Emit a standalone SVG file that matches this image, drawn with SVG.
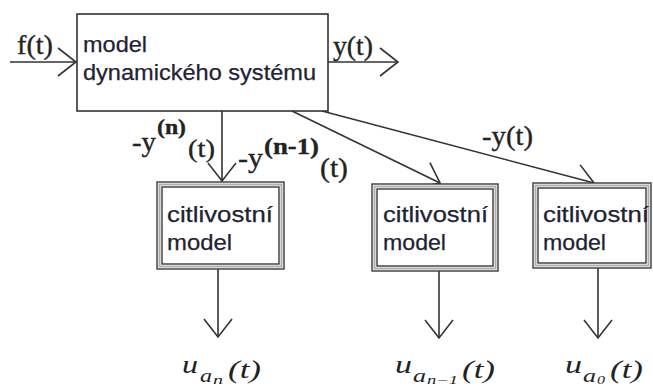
<svg xmlns="http://www.w3.org/2000/svg" width="653" height="387" viewBox="0 0 653 387">
  <style>
    .box { fill: #ffffff; stroke: #333333; stroke-width: 1.6; }
    .frame-out { fill: #ffffff; stroke: #3a3a3a; stroke-width: 1.4; }
    .frame-mid { fill: none; stroke: #b0b0b0; stroke-width: 2; }
    .frame-in { fill: none; stroke: #3a3a3a; stroke-width: 1.4; }
    .wire { fill: none; stroke: #333333; stroke-width: 1.6; marker-end: url(#vee); }
    .sans { font-family: "Liberation Sans", Arial, sans-serif; font-size: 22px; fill: #222233; stroke: #222233; stroke-width: 0.25; }
    .serif { font-family: "Liberation Serif", "Times New Roman", serif; fill: #222222; stroke: #222222; stroke-width: 0.35; }
    .math { font-family: "Liberation Serif", "Times New Roman", serif; font-style: italic; fill: #222222; }
  </style>
  <defs>
    <marker id="vee" markerUnits="userSpaceOnUse" markerWidth="40" markerHeight="40" refX="0" refY="0" orient="auto" viewBox="-20 -20 40 40" overflow="visible">
      <path d="M-18,-14 L0,0 L-18,14" fill="none" stroke="#333333" stroke-width="1.6"/>
    </marker>
  </defs>

  <rect width="653" height="387" fill="#ffffff"/>

  <!-- connectors -->
  <g id="connectors">
    <line class="wire" x1="10" y1="62" x2="76" y2="62"/>
    <line class="wire" x1="328" y1="62" x2="398" y2="62"/>
    <line class="wire" x1="222" y1="111" x2="222" y2="181"/>
    <line class="wire" x1="292" y1="111" x2="440" y2="183"/>
    <line class="wire" x1="322" y1="111" x2="594" y2="183"/>
    <line class="wire" x1="218" y1="269" x2="218" y2="337"/>
    <line class="wire" x1="439" y1="271" x2="439" y2="338"/>
    <line class="wire" x1="598" y1="268" x2="598" y2="338"/>
  </g>

  <!-- connector labels -->
  <g id="labels">
    <text class="serif" x="17" y="54" font-size="28" textLength="36" lengthAdjust="spacingAndGlyphs">f(t)</text>
    <text class="serif" x="333" y="55" font-size="28" textLength="40" lengthAdjust="spacingAndGlyphs">y(t)</text>

    <text class="serif" x="132" y="151" font-size="28" textLength="24" lengthAdjust="spacingAndGlyphs">-y</text>
    <text class="serif" x="157" y="134" font-size="20" font-weight="bold" textLength="29" lengthAdjust="spacingAndGlyphs">(n)</text>
    <text class="serif" x="188" y="157" font-size="25" textLength="27" lengthAdjust="spacingAndGlyphs">(t)</text>

    <text class="serif" x="238" y="167" font-size="28" textLength="25" lengthAdjust="spacingAndGlyphs">-y</text>
    <text class="serif" x="264" y="154" font-size="23" font-weight="bold" textLength="55" lengthAdjust="spacingAndGlyphs">(n-1)</text>
    <text class="serif" x="320" y="177" font-size="27" textLength="28" lengthAdjust="spacingAndGlyphs">(t)</text>

    <text class="serif" x="482" y="145" font-size="28" textLength="51" lengthAdjust="spacingAndGlyphs">-y(t)</text>
  </g>

  <!-- main system block -->
  <g id="system">
    <rect class="box" x="77" y="14" width="251" height="97"/>
    <text class="sans" x="83" y="52" textLength="64" lengthAdjust="spacingAndGlyphs">model</text>
    <text class="sans" x="83" y="80" textLength="233" lengthAdjust="spacingAndGlyphs">dynamického systému</text>
  </g>

  <!-- sensitivity models -->
  <g id="sens-n">
    <rect class="frame-out" x="157" y="182" width="127" height="87"/>
    <rect class="frame-mid" x="159.5" y="184.5" width="122" height="82"/>
    <rect class="frame-in" x="162" y="187" width="117" height="77"/>
    <text class="sans" x="167" y="222" textLength="106" lengthAdjust="spacingAndGlyphs">citlivostní</text>
    <text class="sans" x="167" y="250" textLength="65" lengthAdjust="spacingAndGlyphs">model</text>
  </g>
  <g id="sens-n1">
    <rect class="frame-out" x="372" y="184" width="126" height="87"/>
    <rect class="frame-mid" x="374.5" y="186.5" width="121" height="82"/>
    <rect class="frame-in" x="377" y="189" width="116" height="77"/>
    <text class="sans" x="383" y="222" textLength="105" lengthAdjust="spacingAndGlyphs">citlivostní</text>
    <text class="sans" x="383" y="250" textLength="63" lengthAdjust="spacingAndGlyphs">model</text>
  </g>
  <g id="sens-0">
    <rect class="frame-out" x="533" y="183" width="118" height="85"/>
    <rect class="frame-mid" x="535.5" y="185.5" width="113" height="80"/>
    <rect class="frame-in" x="538" y="188" width="108" height="75"/>
    <text class="sans" x="543" y="222" textLength="106" lengthAdjust="spacingAndGlyphs">citlivostní</text>
    <text class="sans" x="543" y="250" textLength="63" lengthAdjust="spacingAndGlyphs">model</text>
  </g>

  <!-- sensitivity outputs -->
  <g id="outputs">
    <text class="math" x="182" y="373" font-size="25" textLength="16" lengthAdjust="spacingAndGlyphs">u</text>
    <text class="math" x="200" y="382" font-size="18" textLength="12" lengthAdjust="spacingAndGlyphs">a</text>
    <text class="math" x="213" y="384" font-size="12" textLength="10" lengthAdjust="spacingAndGlyphs">n</text>
    <text class="math" x="228" y="378" font-size="26" textLength="33" lengthAdjust="spacingAndGlyphs">(t)</text>

    <text class="math" x="395" y="373" font-size="25" textLength="17" lengthAdjust="spacingAndGlyphs">u</text>
    <text class="math" x="413" y="382" font-size="18" textLength="13" lengthAdjust="spacingAndGlyphs">a</text>
    <text class="math" x="427" y="384" font-size="12" textLength="31" lengthAdjust="spacingAndGlyphs">n−1</text>
    <text class="math" x="462" y="378" font-size="26" textLength="33" lengthAdjust="spacingAndGlyphs">(t)</text>

    <text class="math" x="565" y="373" font-size="25" textLength="17" lengthAdjust="spacingAndGlyphs">u</text>
    <text class="math" x="583" y="382" font-size="18" textLength="13" lengthAdjust="spacingAndGlyphs">a</text>
    <text class="math" x="597" y="384" font-size="12" textLength="8" lengthAdjust="spacingAndGlyphs">0</text>
    <text class="math" x="610" y="378" font-size="26" textLength="33" lengthAdjust="spacingAndGlyphs">(t)</text>
  </g>
</svg>
